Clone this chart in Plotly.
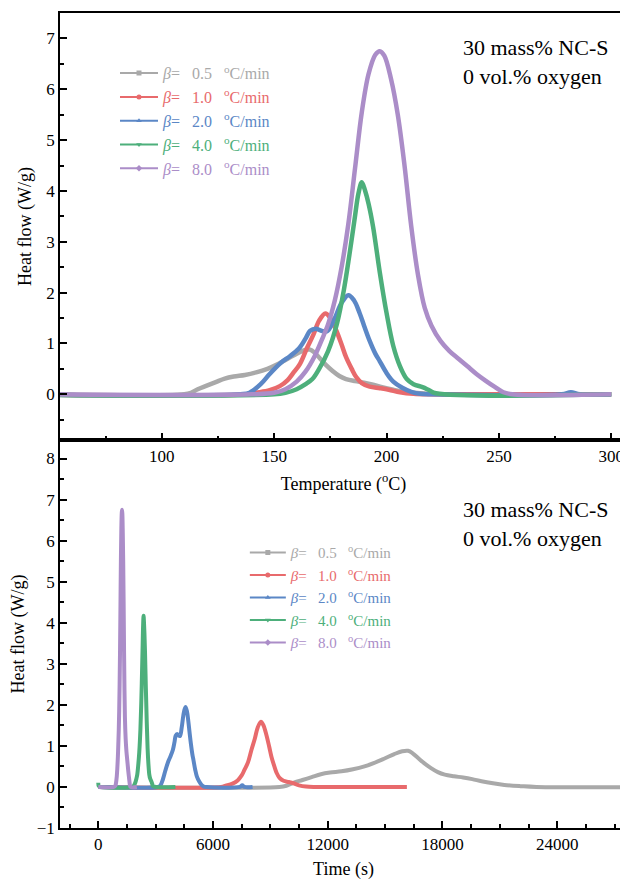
import plotly.graph_objects as go

# heat flow (W/g) vs temperature (oC), one pair per heating rate
temp_05 = [31, 110, 113, 116, 120, 124, 128, 132, 137, 142, 147, 151, 156, 160, 163.5, 166, 168,
           170.5, 173, 176, 179, 182, 186, 190, 194, 198, 203, 208, 215, 222, 300]
hf_05 = [0, 0, 0.03, 0.1, 0.17, 0.24, 0.31, 0.35, 0.38, 0.43, 0.5, 0.58, 0.7, 0.8, 0.87, 0.88, 0.82,
         0.7, 0.58, 0.46, 0.36, 0.3, 0.26, 0.23, 0.19, 0.14, 0.09, 0.05, 0.02, 0, 0]

temp_10 = [31, 138, 142, 148, 152.5, 156, 158.5, 161.5, 164.5, 167.5, 170, 172.8, 175, 177.5, 180,
           182, 184.5, 186.5, 189, 192.5, 197, 201, 206, 212, 220, 300]
hf_10 = [0, 0, 0.03, 0.08, 0.16, 0.28, 0.42, 0.6, 0.9, 1.18, 1.45, 1.59, 1.5, 1.27, 0.98,
         0.73, 0.5, 0.34, 0.22, 0.15, 0.12, 0.09, 0.04, 0.01, 0, 0]

temp_20 = [31, 135, 139, 144, 148, 153, 157, 161, 164, 166, 168.5, 171, 173.5, 176.5, 180, 183,
           185.5, 188, 190, 192.5, 195, 197, 200, 203, 207, 211, 215, 220, 278, 282, 286, 300]
hf_20 = [0, 0, 0.03, 0.2, 0.4, 0.62, 0.75, 0.9, 1.1, 1.25, 1.29, 1.25, 1.24, 1.45, 1.8, 1.95,
         1.85, 1.6, 1.35, 1.05, 0.8, 0.65, 0.42, 0.25, 0.13, 0.05, 0.01, 0, 0, 0.04, 0, 0]

temp_40 = [31, 33, 40, 150, 155, 160, 164, 167, 170, 174, 178, 181, 183.5, 185.8, 187.5, 189,
           190.5, 192, 194, 197, 200, 203, 206, 209, 212, 216, 219, 222, 300]
hf_40 = [0.1, 0.02, 0, 0, 0.03, 0.1, 0.2, 0.3, 0.5, 0.85, 1.4, 2.05, 2.75, 3.45, 3.95, 4.17,
         4.0, 3.75, 3.3, 2.4, 1.6, 0.95, 0.55, 0.3, 0.2, 0.14, 0.08, 0.02, 0]

temp_80 = [31, 140, 150, 155, 160, 164, 168, 171, 174, 177, 180, 183, 186, 189, 192, 195, 197,
           199, 202, 205, 208, 211, 214, 217, 220, 224, 228, 232, 236, 240, 244, 248, 252, 256, 300]
hf_80 = [0, 0, 0.03, 0.1, 0.25, 0.45, 0.75, 1.05, 1.38, 1.85, 2.5, 3.35, 4.45, 5.55, 6.3, 6.68, 6.75,
         6.66, 6.2, 5.5, 4.5, 3.3, 2.35, 1.7, 1.35, 1.05, 0.85, 0.7, 0.55, 0.4, 0.27, 0.15, 0.04, 0, 0]

rates = [0.5, 1.0, 2.0, 4.0, 8.0]
rate_labels = ['0.5', '1.0', '2.0', '4.0', '8.0']
start_temp = 31  # oC at t = 0 s
colors = ['#a9a9a9', '#e86a6c', '#5b87c6', '#4daf7b', '#ab8dc8']
symbols = ['square', 'circle', 'triangle-up', 'triangle-down', 'diamond']
temps = [temp_05, temp_10, temp_20, temp_40, temp_80]
flows = [hf_05, hf_10, hf_20, hf_40, hf_80]

FONT = 'Liberation Serif'
NB = '\u00a0'
fig = go.Figure()

for T, hf, rate, col in zip(temps, flows, rates, colors):
    fig.add_trace(go.Scatter(x=T, y=hf, mode='lines', showlegend=False,
        line=dict(color=col, width=4.5, shape='spline', smoothing=1.0),
        xaxis='x', yaxis='y'))
    # same run on the time axis: t = (T - T0) / beta
    t = [(v - start_temp) * 60.0 / rate for v in T]
    fig.add_trace(go.Scatter(x=t, y=hf, mode='lines', showlegend=False,
        line=dict(color=col, width=4, shape='spline', smoothing=1.0),
        xaxis='x2', yaxis='y2'))

# legend entries (thin line + marker), text coloured like the curve
for i, (lab, col, sym) in enumerate(zip(rate_labels, colors, symbols)):
    name = ('<span style="color:%s"><i>β</i>=%s %s%s <sup>o</sup>C/min</span>'
            % (col, NB * 2, lab, NB * 2))
    for lg, xa, ya in (('legend', 'x', 'y'), ('legend2', 'x2', 'y2')):
        fig.add_trace(go.Scatter(x=[None], y=[None], mode='lines+markers', name=name,
            legend=lg, legendgroup=lg + str(i), xaxis=xa, yaxis=ya,
            line=dict(color=col, width=2), marker=dict(color=col, size=5, symbol=sym)))

axis_common = dict(showline=True, linecolor='black', linewidth=1.5, mirror=True,
    ticks='inside', ticklen=7, tickwidth=1.5, tickcolor='black', showgrid=False,
    zeroline=False, automargin=False, tickfont=dict(family=FONT, size=17, color='black'))
minor_common = dict(ticks='inside', ticklen=4, tickcolor='black', tickwidth=1.5)
title_font = dict(family=FONT, size=18, color='black')

# page body has an 8px margin, so the figure is drawn 8px smaller
fig.update_layout(
    width=620, height=872,
    margin=dict(l=52, r=1, t=5, b=52),
    paper_bgcolor='white', plot_bgcolor='white',
    font=dict(family=FONT, size=16, color='black'),
    xaxis=dict(axis_common, domain=[0, 1], anchor='y', range=[54.7, 307], dtick=50, tick0=0,
               minor=dict(minor_common, dtick=25),
               title=dict(text='Temperature (<sup>o</sup>C)', font=title_font, standoff=12)),
    yaxis=dict(axis_common, domain=[0.476, 1], anchor='x', range=[-0.9, 7.5], dtick=1, tick0=0,
               minor=dict(minor_common, dtick=0.5),
               title=dict(text='Heat flow (W/g)', font=title_font, standoff=10)),
    xaxis2=dict(axis_common, domain=[0, 1], anchor='y2', range=[-2000, 27650], dtick=6000, tick0=0,
                tickformat='d', minor=dict(minor_common, dtick=1500),
                title=dict(text='Time (s)', font=title_font, standoff=9)),
    yaxis2=dict(axis_common, domain=[0, 0.476], anchor='x2', range=[-1, 8.45], dtick=1, tick0=0,
                minor=dict(minor_common, dtick=0.5),
                title=dict(text='Heat flow (W/g)', font=title_font, standoff=10)),
    legend=dict(x=0.097, y=0.947, xanchor='left', yanchor='top', bgcolor='rgba(0,0,0,0)',
                font=dict(family=FONT, size=16), itemwidth=38, tracegroupgap=0),
    legend2=dict(x=0.326, y=0.358, xanchor='left', yanchor='top', bgcolor='rgba(0,0,0,0)',
                 font=dict(family=FONT, size=15), itemwidth=36, tracegroupgap=0),
)

for ypos in (0.975, 0.408):
    fig.add_annotation(xref='paper', yref='paper', x=0.708, y=ypos, xanchor='left', yanchor='top',
        text='30 mass% NC-S<br>0 vol.% oxygen', showarrow=False, align='left',
        font=dict(family=FONT, size=22, color='black'))

fig.write_html("out.html")
